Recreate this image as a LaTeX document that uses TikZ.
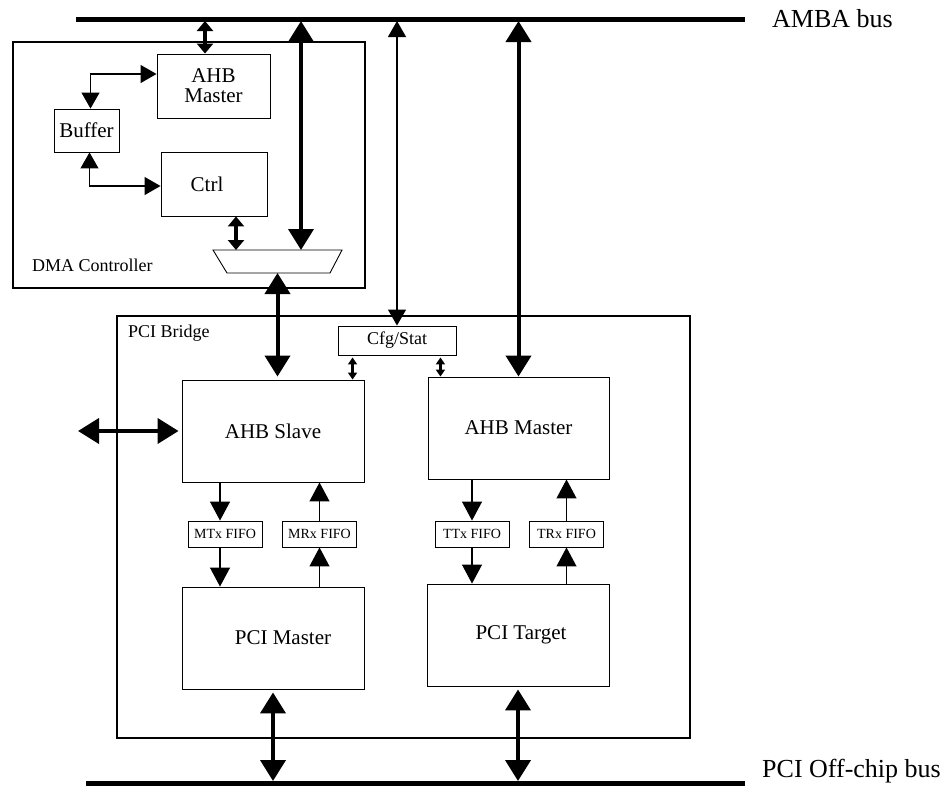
\documentclass[tikz,border=0pt]{standalone}
\usepackage{fontspec}
\setmainfont{Liberation Serif}
\usetikzlibrary{arrows.meta,positioning}

\begin{document}
\begin{tikzpicture}[x=1pt, y=-1pt,
  every node/.style={inner sep=0pt, align=center},
  blk/.style={draw, line width=0.9pt, font=\fontsize{21}{20}\selectfont},
  fifo/.style={draw, line width=0.9pt, minimum width=74pt, minimum height=26pt, font=\fontsize{14}{16}\selectfont},
  unit/.style={draw, line width=2pt},
  bus/.style={line width=5pt},
  buslbl/.style={anchor=base west, font=\fontsize{26}{28}\selectfont},
  unitlbl/.style={anchor=base west, font=\fontsize{18}{20}\selectfont},
  bigarr/.style={line width=4pt, {Triangle[length=21pt,width=25pt]}-{Triangle[length=21pt,width=25pt]}},
  midarr/.style={line width=3.5pt, {Triangle[length=10pt,width=16pt]}-{Triangle[length=10pt,width=16pt]}},
  tinyarr/.style={line width=2.5pt, {Triangle[length=7pt,width=9pt]}-{Triangle[length=7pt,width=9pt]}},
  thinarr/.style={line width=1.2pt, -{Triangle[length=19pt,width=20pt]}},
  thinboth/.style={line width=1.2pt, {Triangle[length=16pt,width=18pt]}-{Triangle[length=16pt,width=18pt]}}]
\useasboundingbox (0,0) rectangle (949,798);
\coordinate (amba w) at (76,19);
\coordinate (amba e) at (745,19);
\coordinate (pci w) at (86,783);
\coordinate (pci e) at (745,783);
\coordinate (ext) at (78,431);
\draw[bus] (amba w) -- (amba e);
\draw[bus] (pci w) -- (pci e);
\node[buslbl] (ambalbl) at (772,27) {AMBA bus};
\node[buslbl] (pcilbl) at (762,777) {PCI Off-chip bus};

\node[unit, minimum width=352pt, minimum height=246pt] (dma) at (189,165) {};
\node[unitlbl] (dmalbl) at (32,271) {DMA Controller};
\node[blk, minimum width=113pt, minimum height=64pt] (dmamst) at (213.5,86) {AHB\\Master};
\node[blk, minimum width=65pt, minimum height=43pt] (buffer) at (86.5,130.5) {Buffer};
\node[blk, minimum width=106pt, minimum height=64pt] (ctrl) at (214,184) {Ctrl\hspace*{14pt}};
\coordinate (mux top) at (277.5,250);
\coordinate (mux bot) at (277.5,273);
\draw[line width=0.9pt] (213,250) -- (342,250) -- (330,273) -- (227,273) -- cycle;

\node[unit, minimum width=573pt, minimum height=422pt] (bridge) at (403.5,527) {};
\node[unitlbl] (bridgelbl) at (128,337) {PCI Bridge};
\node[blk, font=\fontsize{18}{20}\selectfont, minimum width=118pt, minimum height=29pt] (cfg) at (397,340.5) {Cfg/Stat};
\node[blk, minimum width=182pt, minimum height=102pt] (ahbslv) at (273,431) {AHB Slave};
\node[blk, minimum width=181pt, minimum height=102pt] (ahbmst) at (518.5,428) {AHB Master};
\node[fifo] (mtx) at (225,534) {MTx FIFO};
\node[fifo] (mrx) at (319.5,534) {MRx FIFO};
\node[fifo] (ttx) at (472,534) {TTx FIFO};
\node[fifo] (trx) at (566.5,534) {TRx FIFO};
\node[blk, minimum width=182pt, minimum height=102pt] (pcimst) at (273,638) {\hspace*{20pt}PCI Master};
\node[blk, minimum width=182pt, minimum height=102pt] (pcitgt) at (518,635) {\hspace*{6pt}PCI Target};

\path ([xshift=-8.5pt]dmamst.north) coordinate (mstup)
      ([xshift=23.5pt]mux top) coordinate (muxin)
      ([xshift=4pt]buffer.north) coordinate (bufup)
      ([yshift=12pt]dmamst.west) coordinate (mstin)
      ([xshift=3pt]buffer.south) coordinate (bufdn)
      ([yshift=-2pt]ctrl.west) coordinate (ctrlin)
      ([xshift=22pt]ctrl.south) coordinate (ctrlout)
      ([xshift=15pt,yshift=-2pt]cfg.south west) coordinate (cfgl)
      ([xshift=-16pt,yshift=-2pt]cfg.south east) coordinate (cfgr)
      ([xshift=-5pt]mtx.north) coordinate (mtxin)
      ([xshift=-5pt]mtx.south) coordinate (mtxout);

\draw[midarr, shorten <=2pt] (mstup |- amba w) -- (mstup);
\draw[bigarr, shorten <=2pt] (muxin |- amba w) -- (muxin);
\draw[thinboth, shorten <=2pt] (cfg.north |- amba w) -- (cfg.north);
\draw[bigarr, shorten <=2pt] (ahbmst.north |- amba w) -- (ahbmst.north);
\draw[thinboth] (bufup) |- (mstin);
\draw[thinboth] (bufdn) |- (ctrlin);
\draw[midarr] (ctrlout) -- (ctrlout |- mux top);
\draw[bigarr, shorten >=3pt] (mux bot) -- (mux bot |- ahbslv.north);
\draw[bigarr, shorten >=3pt] (ext) -- (ahbslv.west);
\draw[tinyarr] (cfgl) -- (cfgl |- ahbslv.north);
\draw[tinyarr] (cfgr) -- (cfgr |- ahbmst.north);
\draw[thinarr] (mtxin |- ahbslv.south) -- (mtxin);
\draw[thinarr] (mtxout) -- (mtxout |- pcimst.north);
\draw[thinarr] (mrx.north) -- (mrx.north |- ahbslv.south);
\draw[thinarr] (mrx.south |- pcimst.north) -- (mrx.south);
\draw[thinarr] (ahbmst.south -| ttx.north) -- (ttx.north);
\draw[thinarr] (ttx.south) -- (ttx.south |- pcitgt.north);
\draw[thinarr] (trx.north) -- (trx.north |- ahbmst.south);
\draw[thinarr] (trx.south |- pcitgt.north) -- (trx.south);
\draw[bigarr, shorten >=2pt, shorten <=3pt] (pcimst.south) -- (pcimst.south |- pci w);
\draw[bigarr, shorten >=2pt, shorten <=3pt] (pcitgt.south) -- (pcitgt.south |- pci w);
\end{tikzpicture}
\end{document}
